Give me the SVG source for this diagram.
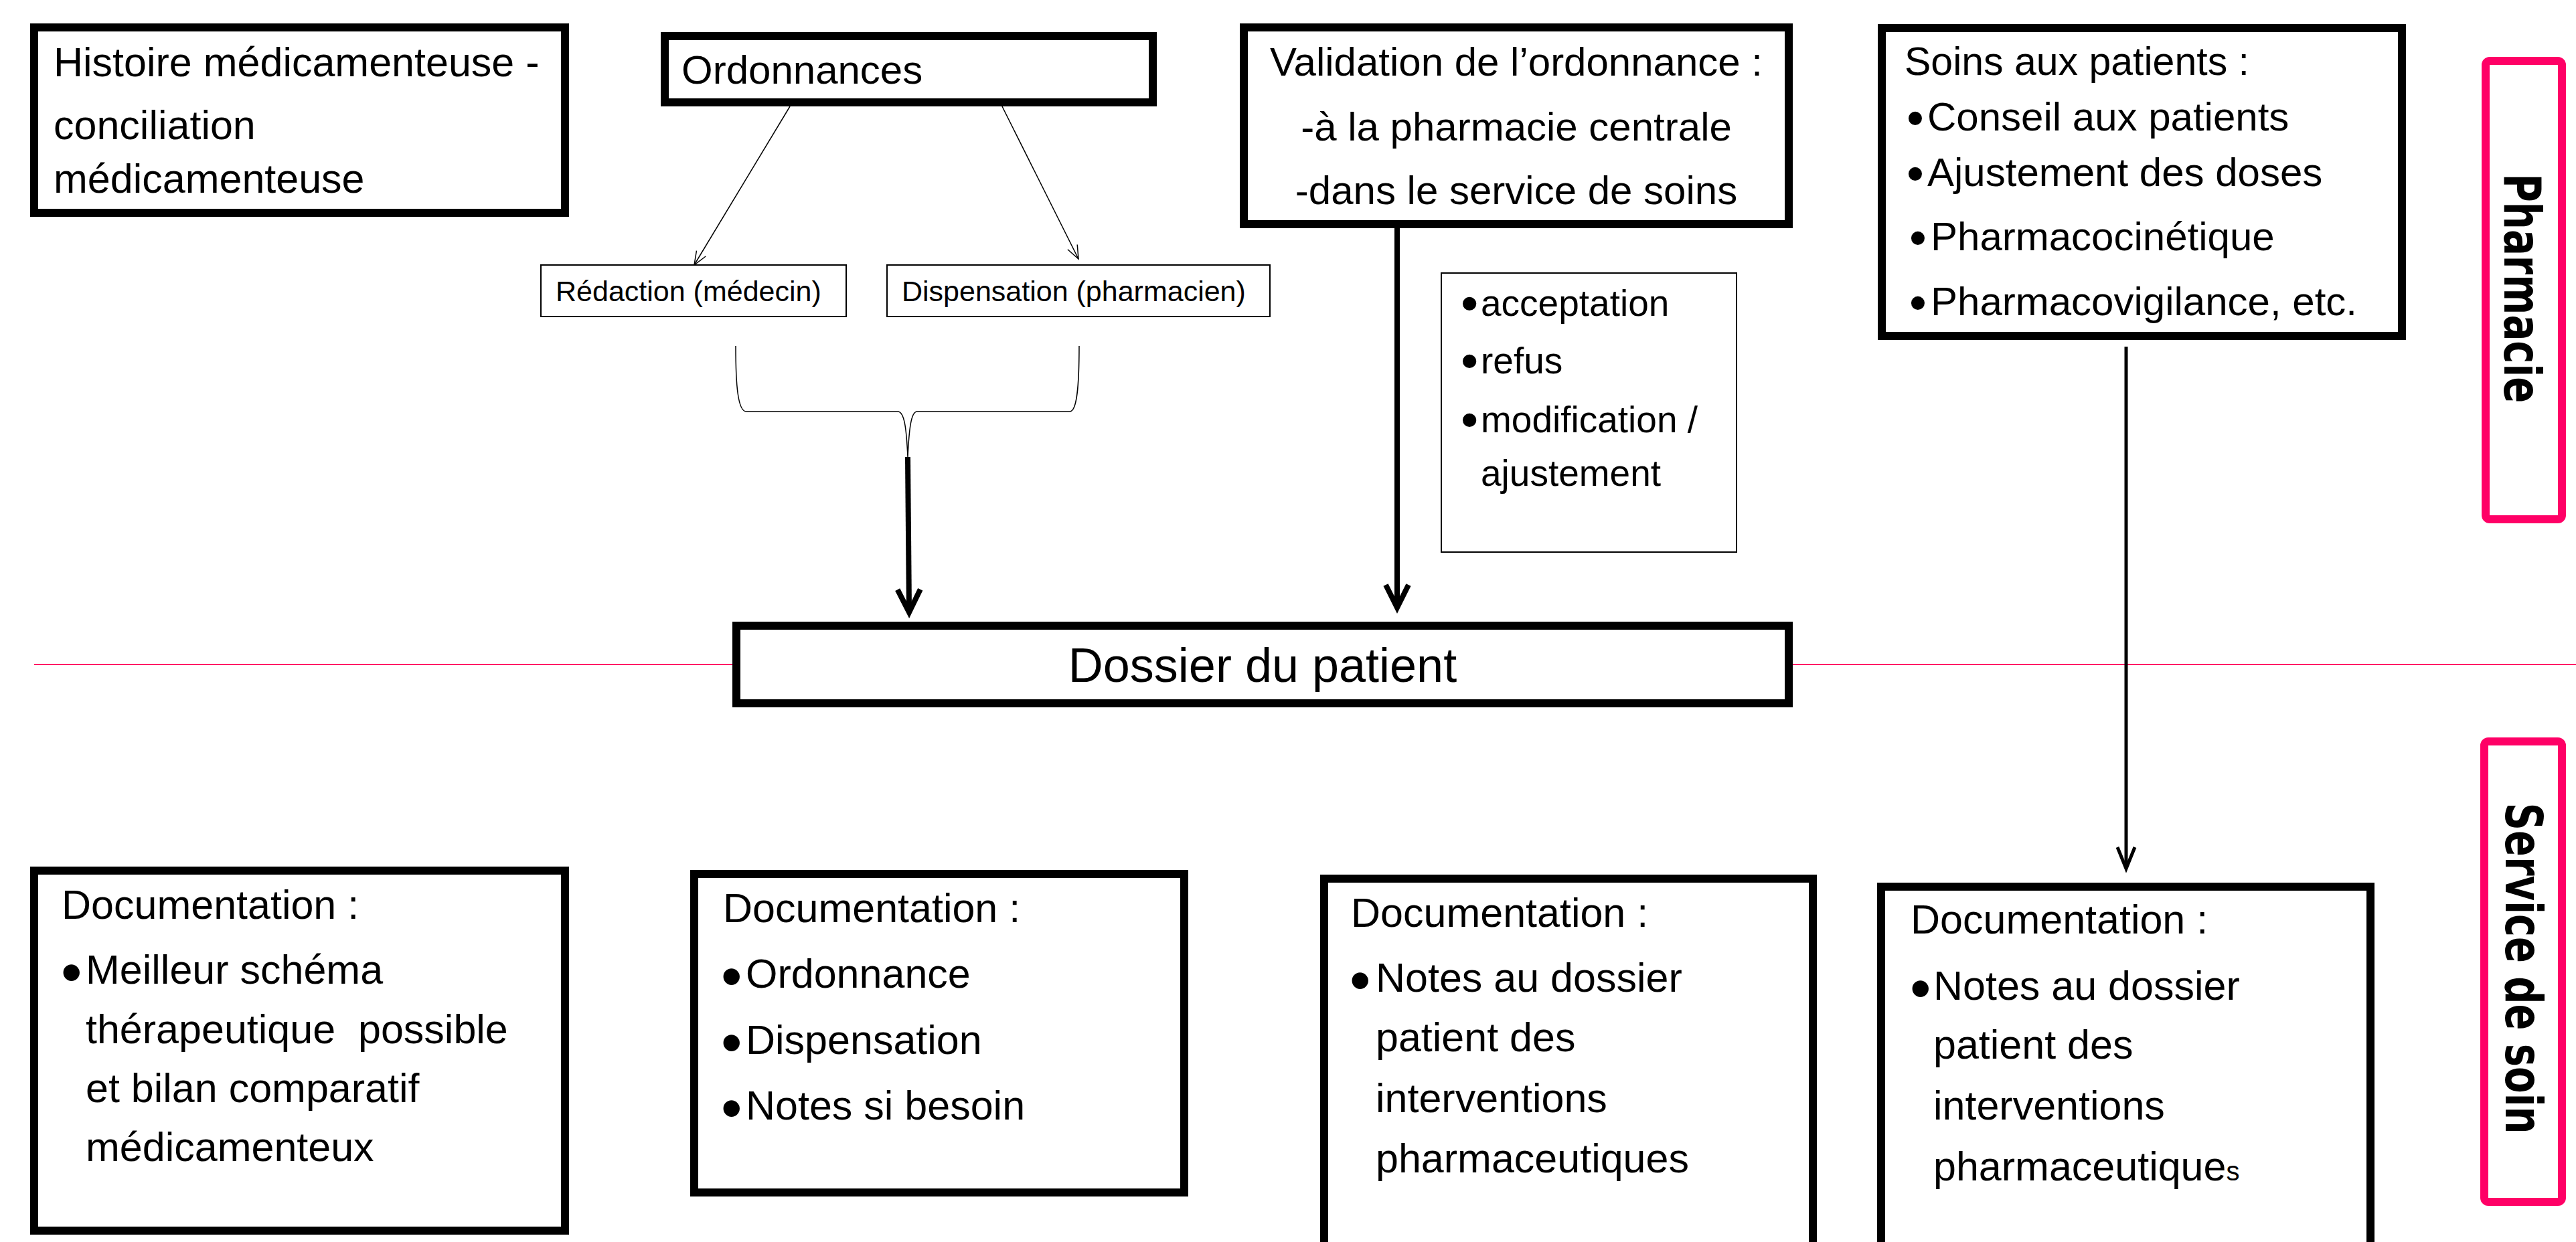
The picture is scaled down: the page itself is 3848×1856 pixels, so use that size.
<svg xmlns="http://www.w3.org/2000/svg" width="3848" height="1856" viewBox="0 0 3848 1856">
<style>
.box{fill:#fff;stroke:#000;stroke-width:12;stroke-linejoin:miter}
.thin{fill:#fff;stroke:#000;stroke-width:2}
.lane{fill:none;stroke:#FF0066;stroke-width:12}
.t{font-family:"Liberation Sans",Arial,sans-serif;fill:#000}
.b{font-size:90px}
.b2{font-size:75px}
.b3{font-size:74px}
.lbl{font-family:"DejaVu Sans",sans-serif;font-weight:bold;font-size:76px;fill:#000}
.c-thin{fill:none;stroke:#000;stroke-width:1.5}
.c-thick{fill:none;stroke:#000;stroke-width:8}
.c-mid{fill:none;stroke:#000;stroke-width:5}
</style>
<defs>
<marker id="arrThin" markerUnits="userSpaceOnUse" viewBox="-30 -20 40 40" markerWidth="40" markerHeight="40" refX="0" refY="0" orient="auto">
<path d="M-20,-8 L0,0 L-20,8" fill="none" stroke="#000" stroke-width="1.5"/>
</marker>
<marker id="arrThick" markerUnits="userSpaceOnUse" viewBox="-45 -25 55 50" markerWidth="55" markerHeight="50" refX="-4" refY="0" orient="auto">
<path d="M-34,-17 L0,0 L-34,17" fill="none" stroke="#000" stroke-width="8"/>
</marker>
<marker id="arrMid" markerUnits="userSpaceOnUse" viewBox="-45 -25 55 50" markerWidth="55" markerHeight="50" refX="-3" refY="0" orient="auto">
<path d="M-32,-13 L0,0 L-32,13" fill="none" stroke="#000" stroke-width="5"/>
</marker>
</defs>
<rect width="3848" height="1856" fill="#fff"/>

<g id="lanes">
<line x1="51" y1="993" x2="3848" y2="993" stroke="#FF0066" stroke-width="2"/>
<g id="lane-pharmacie">
<rect class="lane" x="3713" y="91" width="114" height="685" rx="6"/>
<text class="lbl" transform="translate(3741,431) rotate(90)" text-anchor="middle" textLength="343" lengthAdjust="spacingAndGlyphs">Pharmacie</text>
</g>
<g id="lane-service">
<rect class="lane" x="3711" y="1108" width="116" height="688" rx="6"/>
<text class="lbl" transform="translate(3743,1447) rotate(90)" text-anchor="middle" textLength="495" lengthAdjust="spacingAndGlyphs">Service de soin</text>
</g>
</g>

<g id="connectors">
<line class="c-thin" x1="1180" y1="159" x2="1037" y2="396" marker-end="url(#arrThin)"/>
<line class="c-thin" x1="1497" y1="159" x2="1611" y2="387" marker-end="url(#arrThin)"/>
<path class="c-thin" d="M1099,517 C1099,575 1102,615 1115,615 L1341,615 C1351,615 1354,640 1356,683 C1358,640 1361,615 1370,615 L1598,615 C1609,615 1612,575 1612,517"/>
<line class="c-thick" x1="1356" y1="683" x2="1358" y2="911" marker-end="url(#arrThick)"/>
<line class="c-thick" x1="2087" y1="341" x2="2087" y2="904" marker-end="url(#arrThick)"/>
<line class="c-mid" x1="3176" y1="518" x2="3176" y2="1295" marker-end="url(#arrMid)"/>
</g>

<g id="node-histoire">
<rect class="box" x="51" y="41" width="793" height="277"/>
<text class="t" font-size="61"><tspan x="80" y="114">Histoire médicamenteuse -</tspan><tspan x="80" y="208">conciliation</tspan><tspan x="80" y="288">médicamenteuse</tspan></text>
</g>

<g id="node-ordonnances">
<rect class="box" x="993" y="54" width="729" height="99"/>
<text class="t" font-size="60" x="1018" y="125">Ordonnances</text>
</g>

<g id="node-redaction">
<rect class="thin" x="808" y="396" width="456" height="77"/>
<text class="t" font-size="43" x="830" y="450">Rédaction (médecin)</text>
</g>

<g id="node-dispensation">
<rect class="thin" x="1325" y="396" width="572" height="77"/>
<text class="t" font-size="43" x="1347" y="450">Dispensation (pharmacien)</text>
</g>

<g id="node-validation">
<rect class="box" x="1858" y="41" width="814" height="294"/>
<text class="t" font-size="60" text-anchor="middle"><tspan x="2265" y="113">Validation de l’ordonnance :</tspan><tspan x="2265" y="210">-à la pharmacie centrale</tspan><tspan x="2265" y="305">-dans le service de soins</tspan></text>
</g>

<g id="node-decision">
<rect class="thin" x="2153" y="408" width="441" height="417"/>
<text class="t" font-size="55"><tspan class="b2" x="2182" y="479">•</tspan><tspan x="2212" y="472">acceptation</tspan><tspan class="b2" x="2182" y="565">•</tspan><tspan x="2212" y="558">refus</tspan><tspan class="b2" x="2182" y="653">•</tspan><tspan x="2212" y="646">modification /</tspan><tspan x="2212" y="726">ajustement</tspan></text>
</g>

<g id="node-soins">
<rect class="box" x="2811" y="42" width="777" height="460"/>
<text class="t" font-size="60"><tspan x="2845" y="112" font-size="59">Soins aux patients :</tspan><tspan class="b3" x="2848" y="202">•</tspan><tspan x="2879" y="195">Conseil aux patients</tspan><tspan class="b3" x="2848" y="285">•</tspan><tspan x="2879" y="278">Ajustement des doses</tspan><tspan class="b3" x="2852" y="381">•</tspan><tspan x="2884" y="374">Pharmacocinétique</tspan><tspan class="b3" x="2852" y="478">•</tspan><tspan x="2884" y="471">Pharmacovigilance, etc.</tspan></text>
</g>

<g id="node-dossier">
<rect class="box" x="1100" y="935" width="1572" height="116"/>
<text class="t" font-size="72" x="1886" y="1019" text-anchor="middle">Dossier du patient</text>
</g>

<g id="node-doc1">
<rect class="box" x="51" y="1301" width="793" height="538"/>
<text class="t" font-size="61" xml:space="preserve"><tspan x="92" y="1373">Documentation :</tspan><tspan class="b" x="91" y="1484">•</tspan><tspan x="128" y="1470">Meilleur schéma</tspan><tspan x="128" y="1559">thérapeutique  possible</tspan><tspan x="128" y="1647">et bilan comparatif</tspan><tspan x="128" y="1735">médicamenteux</tspan></text>
</g>

<g id="node-doc2">
<rect class="box" x="1037" y="1306" width="732" height="476"/>
<text class="t" font-size="61"><tspan x="1080" y="1378">Documentation :</tspan><tspan class="b" x="1077" y="1490">•</tspan><tspan x="1114" y="1476">Ordonnance</tspan><tspan class="b" x="1077" y="1589">•</tspan><tspan x="1114" y="1575">Dispensation</tspan><tspan class="b" x="1077" y="1687">•</tspan><tspan x="1114" y="1673">Notes si besoin</tspan></text>
</g>

<g id="node-doc3">
<rect class="box" x="1978" y="1313" width="730" height="600"/>
<text class="t" font-size="61"><tspan x="2018" y="1385">Documentation :</tspan><tspan class="b" x="2016" y="1496">•</tspan><tspan x="2055" y="1482">Notes au dossier</tspan><tspan x="2055" y="1571">patient des</tspan><tspan x="2055" y="1662">interventions</tspan><tspan x="2055" y="1752">pharmaceutiques</tspan></text>
</g>

<g id="node-doc4">
<rect class="box" x="2810" y="1325" width="731" height="600"/>
<text class="t" font-size="61"><tspan x="2854" y="1395">Documentation :</tspan><tspan class="b" x="2853" y="1508">•</tspan><tspan x="2888" y="1494">Notes au dossier</tspan><tspan x="2888" y="1582">patient des</tspan><tspan x="2888" y="1673">interventions</tspan><tspan x="2888" y="1764">pharmaceutique<tspan font-size="40">s</tspan></tspan></text>
</g>
</svg>
